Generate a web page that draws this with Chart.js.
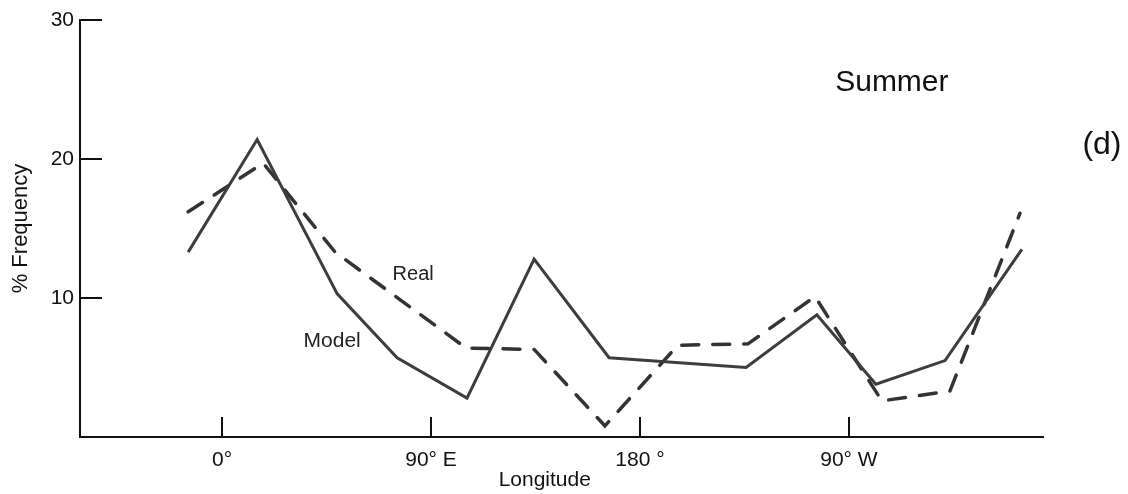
<!DOCTYPE html>
<html>
<head>
<meta charset="utf-8">
<script src="https://cdn.jsdelivr.net/npm/chart.js@4"></script>
<style>
  html, body { margin: 0; padding: 0; background: #fff; }
  #wrap { width: 1128px; height: 494px; position: relative; }
</style>
</head>
<body>
<div id="wrap"><canvas id="freqChart"></canvas></div>
<script>
// longitude (deg east of Greenwich, 0..360) and % frequency
const realLon  = [-14.6, 17.7, 48.7, 105.1, 134.4, 164.9, 196.3, 226.5, 255.4, 284.2, 313.5, 343.7];
const realPct  = [16.2, 19.7, 13.3, 6.4, 6.3, 0.8, 6.6, 6.7, 10.1, 2.6, 3.3, 16.1];
const modelLon = [-14.6, 15.1, 49.6, 75.4, 105.5, 134.4, 166.7, 225.7, 256.2, 281.6, 311.4, 344.5];
const modelPct = [13.3, 21.4, 10.3, 5.7, 2.8, 12.8, 5.7, 5.0, 8.8, 3.8, 5.5, 13.5];

const xTicks = [0, 90, 180, 270];
const xTickLabels = ['0°', '90° E', '180 °', '90° W'];
const yTicks = [10, 20, 30];

const FONT = '"Liberation Sans", Arial, sans-serif';

const toPts = (xs, ys) => xs.map((x, i) => ({ x, y: ys[i] }));

// free text on the figure: season, panel letter, line names, x title
const labelPlugin = {
  id: 'figLabels',
  afterDraw(chart) {
    const { ctx, scales: { x, y }, chartArea } = chart;
    ctx.save();
    ctx.fillStyle = '#111';
    ctx.textAlign = 'center';
    ctx.textBaseline = 'middle';

    ctx.font = '30px ' + FONT;
    ctx.fillText('Summer', x.getPixelForValue(288.5), y.getPixelForValue(25.5));
    ctx.font = '32px ' + FONT;
    ctx.fillText('(d)', x.getPixelForValue(379), y.getPixelForValue(21.0));

    ctx.fillStyle = '#222';
    ctx.font = '20px ' + FONT;
    ctx.fillText('Real', x.getPixelForValue(82.3), y.getPixelForValue(11.7));
    ctx.font = '21px ' + FONT;
    ctx.fillText('Model', x.getPixelForValue(47.4), y.getPixelForValue(6.9));

    ctx.fillStyle = '#111';
    ctx.fillText('Longitude', x.getPixelForValue(139), chartArea.bottom + 43);
    ctx.restore();
  }
};

const ctx = document.getElementById('freqChart').getContext('2d');
new Chart(ctx, {
  type: 'line',
  data: {
    datasets: [
      {
        label: 'Model',
        data: toPts(modelLon, modelPct),
        borderColor: '#3d3d3d',
        borderWidth: 3,
        pointRadius: 0,
        tension: 0,
        fill: false
      },
      {
        label: 'Real',
        data: toPts(realLon, realPct),
        borderColor: '#333',
        borderWidth: 3.5,
        borderDash: [17, 14],
        borderCapStyle: 'round',
        pointRadius: 0,
        tension: 0,
        fill: false
      }
    ]
  },
  options: {
    responsive: true,
    maintainAspectRatio: false,
    animation: false,
    layout: { padding: { top: 20, right: 85, left: 0, bottom: 0 } },
    plugins: { legend: { display: false }, tooltip: { enabled: false } },
    scales: {
      x: {
        type: 'linear',
        min: -61.2,
        max: 353.6,
        afterBuildTicks: s => { s.ticks = xTicks.map(v => ({ value: v })); },
        afterFit: s => { s.height = 57; s.paddingLeft = 0; s.paddingRight = 0; },
        ticks: {
          callback: (v) => xTickLabels[xTicks.indexOf(v)],
          color: '#111',
          font: { family: FONT, size: 21 },
          padding: 31,
          maxRotation: 0
        },
        grid: { drawOnChartArea: false, tickLength: -20, color: '#111', lineWidth: 2 },
        border: { color: '#111', width: 2 }
      },
      y: {
        min: 0,
        max: 30,
        afterBuildTicks: s => { s.ticks = yTicks.map(v => ({ value: v })); },
        afterFit: s => { s.width = 80; s.paddingTop = 0; s.paddingBottom = 0; },
        title: {
          display: true,
          text: '% Frequency',
          color: '#111',
          font: { family: FONT, size: 22 },
          padding: { top: 8, bottom: 0 }
        },
        ticks: {
          color: '#111',
          font: { family: FONT, size: 21 },
          padding: 28
        },
        grid: { drawOnChartArea: false, tickLength: -22, color: '#111', lineWidth: 2 },
        border: { color: '#111', width: 2 }
      }
    }
  },
  plugins: [labelPlugin]
});
</script>
</body>
</html>
